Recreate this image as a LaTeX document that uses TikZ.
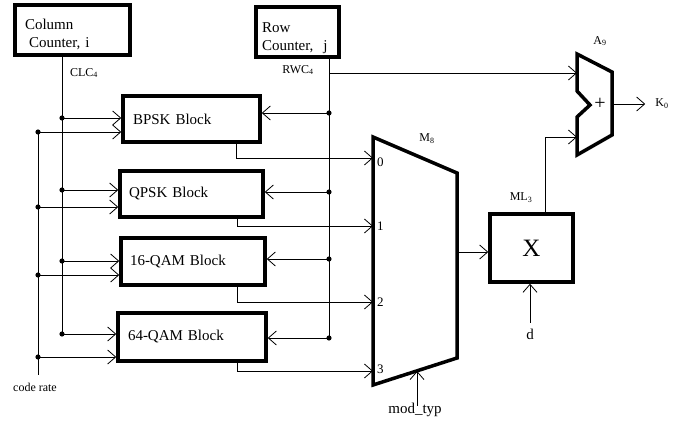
\documentclass[tikz,border=0pt]{standalone}
\usepackage{fontspec}
\setmainfont{Liberation Serif}
\usetikzlibrary{arrows.meta,calc}
\begin{document}
\begin{tikzpicture}[x=1pt,y=-1pt,
  wire/.style={line width=0.8pt},
  arr/.style={wire,-{Straight Barb[length=8pt,width=14pt,line width=0.8pt]}},
  box/.style={draw,line width=3.5pt,inner sep=0pt,align=left,font=\fontsize{15}{18}\selectfont},
  lbl/.style={font=\fontsize{12}{14}\selectfont,inner sep=0pt},
  big/.style={font=\fontsize{15}{17}\selectfont,inner sep=0pt},
  heavy/.style={line width=3.5pt,line join=miter}]
\useasboundingbox (0,0) rectangle (681,428);

% counters
\node[box,minimum width=115pt,minimum height=50pt,text width=95pt,text depth=11pt] (col) at (72.5,30) {Column\\\hspace{4pt}Counter, i};
\node[box,minimum width=83pt,minimum height=50pt,text width=71pt,text depth=9pt] (row) at (297.5,32) {Row\\Counter,\ \ j};

% blocks
\node[box,minimum width=137pt,minimum height=46pt,text width=117pt] (bpsk) at (191.5,119) {BPSK Block};
\node[box,minimum width=143pt,minimum height=46pt,text width=125pt] (qpsk) at (191.5,194) {QPSK Block};
\node[box,minimum width=144pt,minimum height=47pt,text width=126pt] (qam16) at (193,261.5) {16-QAM Block};
\node[box,minimum width=148pt,minimum height=48pt,text width=128pt] (qam64) at (192,337) {64-QAM Block};
\node[box,minimum width=83pt,minimum height=68pt,align=center,font=\fontsize{25}{25}\selectfont] (mul) at (531.5,248) {X};

% multiplexer M8
\draw[heavy] (373,137) -- (457,173) -- (457,358) -- (373,385) -- cycle;
\coordinate (m0) at (373,158);
\coordinate (m1) at (373,226);
\coordinate (m2) at (373,302);
\coordinate (m3) at (373,371);
\coordinate (mout) at (457,252);
\coordinate (msel) at (417,371);
\node[lbl,font=\fontsize{13}{15}\selectfont,anchor=west] (n0) at (377,162) {0};
\node[lbl,font=\fontsize{13}{15}\selectfont,anchor=west] (n1) at (377,226) {1};
\node[lbl,font=\fontsize{13}{15}\selectfont,anchor=west] (n2) at (377,302) {2};
\node[lbl,font=\fontsize{13}{15}\selectfont,anchor=west] (n3) at (377,369) {3};
\node[lbl] (m8) at (427,139) {M\textsubscript{8}};

% adder A9
\draw[heavy] (577,54) -- (612,72) -- (612,135) -- (577,155) -- (577,117) -- (590,105) -- (577,91) -- cycle;
\node[inner sep=0pt,font=\fontsize{20}{20}\selectfont] (plus) at (600,104) {+};
\coordinate (a1) at (577,73);
\coordinate (a2) at (577,137);
\coordinate (aout) at (612,104);
\node[lbl] (a9) at (600,41) {A\textsubscript{9}};
\node[lbl] (k0) at (662,104) {K\textsubscript{0}};
\draw[arr] (aout) -- ([xshift=-10pt]k0.west);

% buses
\coordinate (clcTop) at ([xshift=-10.5pt]col.south);
\coordinate (c1) at (62,118);
\coordinate (c2) at (62,190);
\coordinate (c3) at (62,261);
\coordinate (c4) at (62,334);
\coordinate (r1) at (38,132);
\coordinate (r2) at (38,207);
\coordinate (r3) at (38,275);
\coordinate (r4) at (38,357);
\coordinate (rEnd) at (38,375);
\coordinate (rwcTop) at ([xshift=31.5pt]row.south);
\coordinate (w0) at (329,73);
\coordinate (w1) at (329,113);
\coordinate (w2) at (329,192);
\coordinate (w3) at (329,259);
\coordinate (w4) at (329,338);

\draw[wire] (clcTop) -- (c4);
\draw[wire] (r1) -- (rEnd);
\draw[wire] (rwcTop) -- (w4);
\node[lbl] (clc) at (84,73) {CLC\textsubscript{4}};
\node[lbl] (rwc) at (298,70) {RWC\textsubscript{4}};
\node[lbl] (cr) at (35,387) {code rate};

\foreach \p/\b in {c1/bpsk,c2/qpsk,c3/qam16,c4/qam64,r1/bpsk,r2/qpsk,r3/qam16,r4/qam64}{
  \draw[arr] (\p) -- (\p -| \b.west);
  \fill (\p) circle (2.6pt);
}
\foreach \p/\b in {w1/bpsk,w2/qpsk,w3/qam16,w4/qam64}{
  \draw[arr] (\p) -- (\p -| \b.east);
  \fill (\p) circle (2.6pt);
}
\draw[arr] (w0) -- (a1);

% block outputs to mux
\draw[arr] ([xshift=44.5pt]bpsk.south) |- (m0);
\draw[arr] ([xshift=45.5pt]qpsk.south) |- (m1);
\draw[arr] ([xshift=44pt]qam16.south) |- (m2);
\draw[arr] ([xshift=45pt]qam64.south) |- (m3);

% mux select
\node[big] (mt) at (415,410) {mod\_typ};
\draw[arr] (mt.north) ++(2pt,-3pt) coordinate (mtTop) -- (msel);

% multiplier
\draw[arr] (mout) -- (mout -| mul.west);
\node[lbl] (ml3) at (521,198) {ML\textsubscript{3}};
\node[big] (d) at (530,334) {d};
\draw[arr] ([yshift=6pt]d.north) -- (d.north |- mul.south);
\draw[arr] ([xshift=13.5pt]mul.north) |- (a2);
\end{tikzpicture}
\end{document}
